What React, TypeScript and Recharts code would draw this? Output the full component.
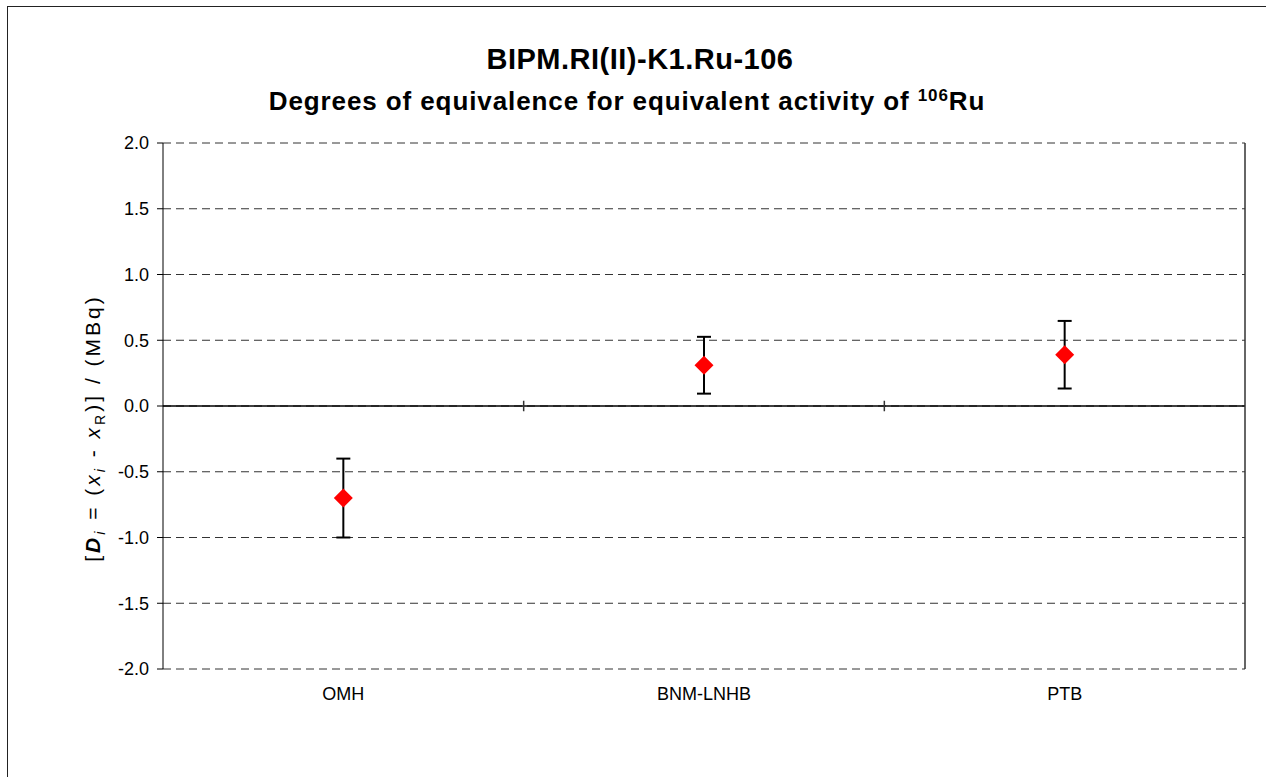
import React from "react"
import { ComposedChart, Scatter, ErrorBar, XAxis, YAxis, CartesianGrid, ReferenceLine } from "recharts"

const labs = ["OMH", "BNM-LNHB", "PTB"]
const degrees = [-0.7, 0.31, 0.39]
const uncertainties = [0.3, 0.216, 0.257]
const yTicks = [-2, -1.5, -1, -0.5, 0, 0.5, 1, 1.5, 2]
const labTicks = [0.5, 1.5, 2.5]
const boundaries = [1, 2]

const data = labs.map((name, i) => ({ pos: i + 0.5, name, d: degrees[i], u: uncertainties[i] }))

const font = "'Liberation Sans', Arial, sans-serif"

const Diamond = (props: any) => {
  const { cx, cy } = props
  const r = 9.5
  return <path d={`M${cx},${cy - r}L${cx + r},${cy}L${cx},${cy + r}L${cx - r},${cy}Z`} fill="#ff0000" />
}

export default function App() {
  return (
    <div style={{ position: "absolute", left: 0, top: 0, width: 1266, height: 777, overflow: "hidden", background: "#fff", fontFamily: font }}>
      <div style={{ position: "absolute", left: 7, top: 6, width: 1300, height: 820, border: "1px solid #222" }} />
      <div style={{ position: "absolute", left: 240, width: 800, top: 43, textAlign: "center", fontSize: 29, fontWeight: "bold", lineHeight: "33px", letterSpacing: 0.5 }}>
        BIPM.RI(II)-K1.Ru-106
      </div>
      <div style={{ position: "absolute", left: 127, width: 1000, top: 86, textAlign: "center", fontSize: 26, fontWeight: "bold", lineHeight: "30px", letterSpacing: 0.9 }}>
        Degrees of equivalence for equivalent activity of <sup style={{ fontSize: 17, verticalAlign: "9px", lineHeight: 0 }}>106</sup>Ru
      </div>
      <svg width={1266} height={777} style={{ position: "absolute", left: 0, top: 0 }}>
        <text transform="translate(100,428) rotate(-90)" textAnchor="middle" fontFamily={font} fontSize={21} letterSpacing={3} fill="#000">
          [<tspan fontStyle="italic" fontWeight="bold">D</tspan>
          <tspan fontStyle="italic" fontSize={14} dy={5}>i</tspan>
          <tspan dy={-5}> = (</tspan>
          <tspan fontStyle="italic">x</tspan>
          <tspan fontStyle="italic" fontSize={14} dy={5}>i</tspan>
          <tspan dy={-5}> - </tspan>
          <tspan fontStyle="italic">x</tspan>
          <tspan fontSize={14} dy={5}>R</tspan>
          <tspan dy={-5}>)] / (MBq)</tspan>
        </text>
      </svg>
      <div style={{ position: "absolute", left: 0, top: 0 }}>
        <ComposedChart width={1266} height={777} data={data} margin={{ top: 143, right: 21, left: 103, bottom: 78 }}>
          <CartesianGrid vertical={false} stroke="#333" strokeDasharray="8 5" />
          <XAxis
            type="number"
            dataKey="pos"
            domain={[0, 3]}
            ticks={labTicks}
            tickFormatter={(v: number) => labs[Math.floor(v)]}
            axisLine={false}
            tickLine={false}
            tickMargin={12}
            height={30}
            tick={{ fontSize: 18, fill: "#000", fontFamily: font }}
          />
          <YAxis
            type="number"
            domain={[-2, 2]}
            ticks={yTicks}
            tickFormatter={(v: number) => v.toFixed(1)}
            width={60}
            axisLine={{ stroke: "#000" }}
            tickLine={{ stroke: "#000" }}
            tickSize={6}
            tickMargin={8}
            tick={{ fontSize: 18, fill: "#000", fontFamily: font }}
          />
          <ReferenceLine y={0} stroke="#000" strokeWidth={1.5} />
          <ReferenceLine x={3} stroke="#333" strokeWidth={1.5} />
          {boundaries.map((b) => (
            <ReferenceLine key={b} segment={[{ x: b, y: -0.04 }, { x: b, y: 0.04 }]} stroke="#333" strokeWidth={1.5} />
          ))}
          <Scatter dataKey="d" shape={<Diamond />} isAnimationActive={false}>
            <ErrorBar dataKey="u" direction="y" width={7} stroke="#000" strokeWidth={2} />
          </Scatter>
        </ComposedChart>
      </div>
    </div>
  )
}
